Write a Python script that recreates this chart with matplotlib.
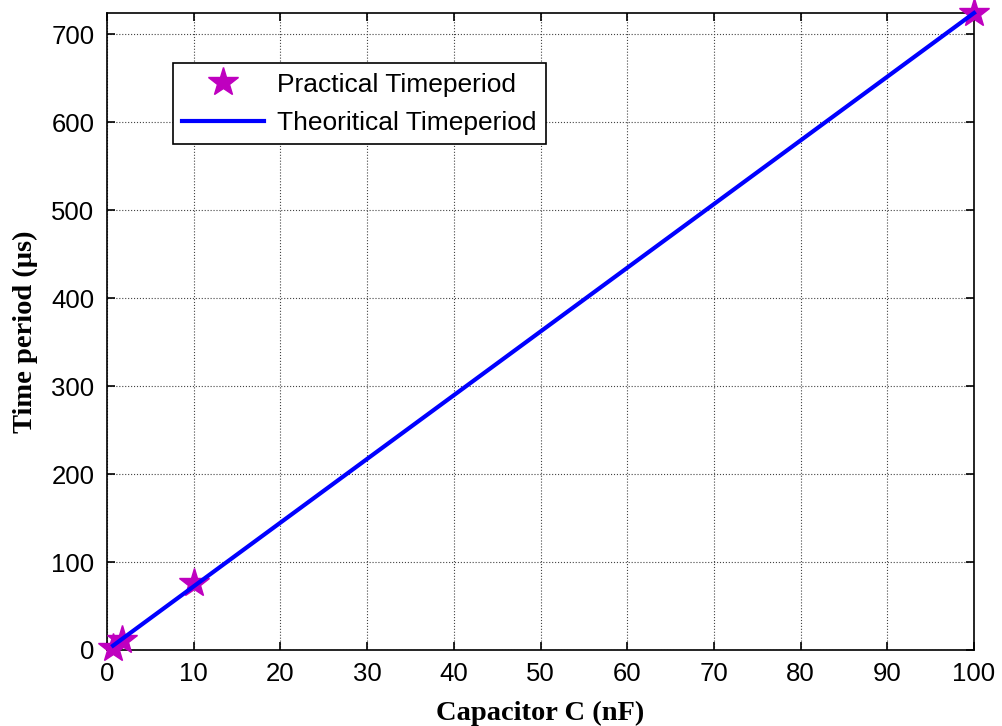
import matplotlib
matplotlib.use('Agg')
import matplotlib.pyplot as plt

# values
cap_nf = [0.7, 1.7, 10, 100]
practical_us = [2, 11, 76, 724]
theory_cap = [0.7, 100]
theory_us = [5, 724]

xticks = [0, 10, 20, 30, 40, 50, 60, 70, 80, 90, 100]
yticks = [0, 100, 200, 300, 400, 500, 600, 700]

fig = plt.figure(figsize=(10.03, 7.26), dpi=100)
ax = fig.add_axes([0.1067, 0.1047, 0.8644, 0.8774])

ax.plot(cap_nf, practical_us, linestyle='none', marker='*', markersize=22,
        markerfacecolor='#bf00bf', markeredgecolor='#bf00bf', markeredgewidth=1,
        label='Practical Timeperiod', zorder=3, clip_on=False)
ax.plot(theory_cap, theory_us, color='#0000ff', linewidth=3,
        label='Theoritical Timeperiod', zorder=4, clip_on=False)

ax.set_xlim(0, 100)
ax.set_ylim(0, 724)
ax.set_xticks(xticks)
ax.set_yticks(yticks)
ax.tick_params(direction='in', length=6, top=True, right=True, width=1.2, pad=9)
for lab in ax.get_xticklabels() + ax.get_yticklabels():
    lab.set_family('Liberation Sans')
    lab.set_fontsize(18.5)
for s in ax.spines.values():
    s.set_linewidth(1.2)

ax.grid(True, linestyle=':', color='#444444', linewidth=0.8)
ax.set_axisbelow(True)

ax.set_xlabel('Capacitor C (nF)', family='Liberation Serif', fontweight='bold',
              fontsize=20.5, labelpad=10)
ax.set_ylabel('Time period (\u03bcs)', family='Liberation Serif', fontweight='bold',
              fontsize=20.5, labelpad=10)

leg = ax.legend(loc='upper left', bbox_to_anchor=(0.076, 0.921), fancybox=False,
                framealpha=1, edgecolor='black', borderaxespad=0,
                prop={'family': 'Liberation Sans', 'size': 19},
                handlelength=3.1, handletextpad=0.5, borderpad=0.35,
                labelspacing=0.55)
leg.get_frame().set_linewidth(1.2)

plt.savefig('out.png', dpi=100)
plt.close()
